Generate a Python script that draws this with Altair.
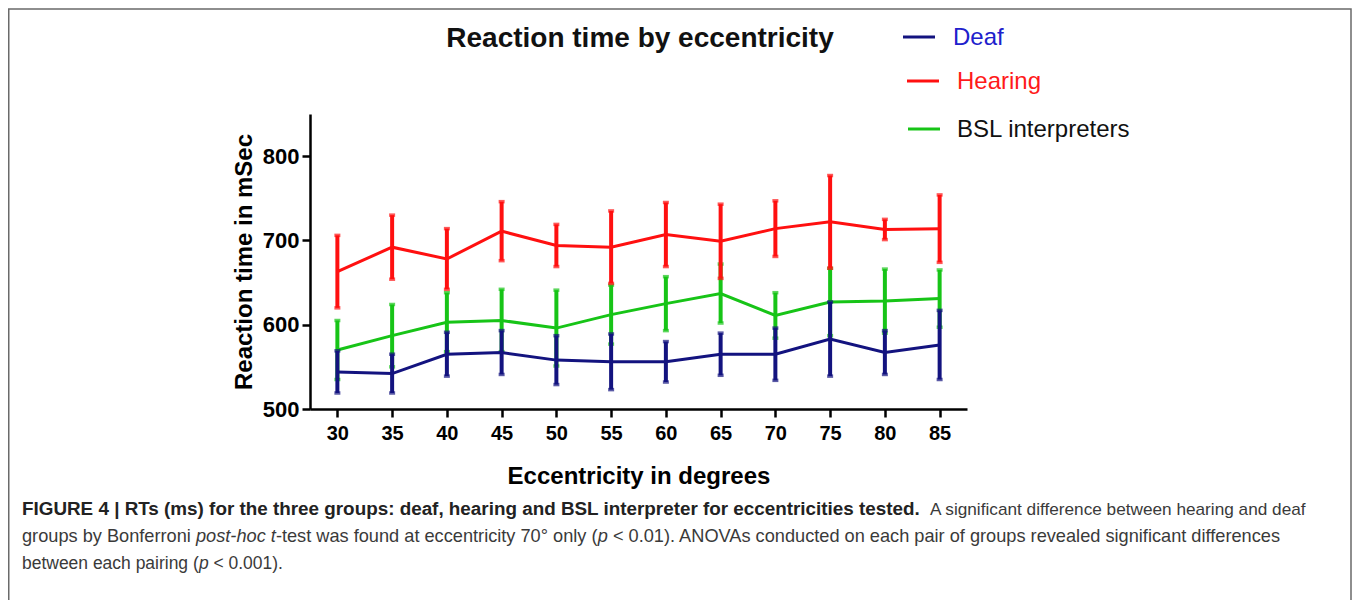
import altair as alt
import pandas as pd

# ---------------- data ----------------
ecc = [30, 35, 40, 45, 50, 55, 60, 65, 70, 75, 80, 85]
deaf_mean = [544, 542, 565, 567, 558, 556, 556, 565, 565, 583, 567, 576]
deaf_err = [25, 23, 26, 26, 29, 33, 24, 25, 31, 44, 26, 41]
hearing_mean = [663, 692, 678, 711, 694, 692, 707, 699, 714, 722, 713, 714]
hearing_err = [43, 38, 36, 35, 25, 43, 38, 44, 33, 55, 12, 40]
bsl_mean = [570, 587, 603, 605, 596, 612, 625, 637, 611, 627, 628, 631]
bsl_err = [35, 37, 35, 37, 45, 35, 32, 35, 27, 40, 38, 34]

y_ticks = [500, 600, 700, 800]
groups = ["Deaf", "Hearing", "BSL interpreters"]
line_colors = {"Deaf": "#13137f", "Hearing": "#ff1010", "BSL interpreters": "#17c417"}
label_colors = {"Deaf": "#2020cc", "Hearing": "#ff1a1a", "BSL interpreters": "#111111"}

title_text = "Reaction time by eccentricity"
x_title = "Eccentricity in degrees"
y_title = "Reaction time in mSec"

caption_lines = [
    [("FIGURE 4 | RTs (ms) for the three groups: deaf, hearing and BSL interpreter for eccentricities tested.", "bold"),
     (" A significant difference between hearing and deaf", "normal")],
    [("groups by Bonferroni ", "normal"), ("post-hoc", "italic"), (" ", "normal"), ("t", "italic"),
     ("-test was found at eccentricity 70\u00b0 only (", "normal"), ("p", "italic"),
     (" < 0.01). ANOVAs conducted on each pair of groups revealed significant differences", "normal")],
    [("between each pairing (", "normal"), ("p", "italic"), (" < 0.001).", "normal")],
]

# ---------------- layout ----------------
W, H = 657, 295
PAD_L, PAD_T = 302, 106
TOTAL_W, TOTAL_H = 1344, 592
FONT = "Liberation Sans"

# Arial / Liberation Sans advance widths (per 1000 em)
REG = {" ": 278, "(": 333, ")": 333, ",": 278, "-": 333, ".": 278, ":": 278, "<": 584,
       "\u00b0": 400, "|": 260}
BOLD = {" ": 278, "(": 333, ")": 333, ",": 278, "-": 333, ".": 278, ":": 333, "<": 584,
        "\u00b0": 400, "|": 280}
for d in "0123456789":
    REG[d] = 556
    BOLD[d] = 556
up_reg = dict(zip("ABCDEFGHIJKLMNOPQRSTUVWXYZ",
                  [667, 667, 722, 722, 667, 611, 778, 722, 278, 500, 667, 556, 833, 722, 778, 667,
                   778, 722, 667, 611, 722, 667, 944, 667, 667, 611]))
up_bold = dict(zip("ABCDEFGHIJKLMNOPQRSTUVWXYZ",
                   [722, 722, 722, 722, 667, 611, 778, 722, 278, 556, 722, 611, 833, 722, 778, 667,
                    778, 722, 667, 611, 722, 667, 944, 667, 667, 611]))
lo_reg = dict(zip("abcdefghijklmnopqrstuvwxyz",
                  [556, 556, 500, 556, 556, 278, 556, 556, 222, 222, 500, 222, 833, 556, 556, 556,
                   556, 333, 500, 278, 556, 500, 722, 500, 500, 500]))
lo_bold = dict(zip("abcdefghijklmnopqrstuvwxyz",
                   [556, 611, 556, 611, 556, 333, 611, 611, 278, 278, 556, 278, 889, 611, 611, 611,
                    611, 389, 556, 333, 611, 556, 778, 556, 556, 500]))
REG.update(up_reg); REG.update(lo_reg)
BOLD.update(up_bold); BOLD.update(lo_bold)


def text_units(s, style):
    table = BOLD if style == "bold" else REG
    return sum(table.get(c, 556) for c in s) / 1000.0


# page-x spans of the caption runs
CAP_LEFT = 22
bold_end = 922
line1_reg_span = (930, 1307)
line2_end = 1283
line3_end = 283

BOLD_SIZE = (bold_end - CAP_LEFT) / text_units(caption_lines[0][0][0], "bold")
line_sizes = [
    (line1_reg_span[1] - line1_reg_span[0]) / text_units(caption_lines[0][1][0].lstrip(" "), "normal"),
    (line2_end - CAP_LEFT) / sum(text_units(s, st) for s, st in caption_lines[1]),
    (line3_end - CAP_LEFT) / sum(text_units(s, st) for s, st in caption_lines[2]),
]
cap_baselines = [515, 542, 569]

# ---------------- axes ----------------
x_enc = alt.X("ecc:Q", scale=alt.Scale(domain=[27.5, 87.5], nice=False, zero=False),
              axis=alt.Axis(values=ecc, title=x_title, labelFontSize=20, titlePadding=21,
                            labelPadding=6, format="d"))
y_axis = alt.Axis(values=y_ticks, title=y_title, labelFontSize=22, titlePadding=6,
                  labelPadding=3, format="d")
y_scale = alt.Scale(domain=[500, 850], nice=False, zero=False)

layers = []
for g, means, errs in [("BSL interpreters", bsl_mean, bsl_err),
                       ("Deaf", deaf_mean, deaf_err),
                       ("Hearing", hearing_mean, hearing_err)]:
    df = pd.DataFrame({"ecc": ecc, "mean": means, "err": errs})
    df["lo"] = df["mean"] - df["err"]
    df["hi"] = df["mean"] + df["err"]
    col = line_colors[g]
    base = alt.Chart(df)
    layers.append(base.mark_rule(color=col, strokeWidth=4).encode(
        x=x_enc, y=alt.Y("lo:Q", scale=y_scale, axis=y_axis), y2="hi:Q"))
    layers.append(base.mark_tick(color=col, orient="horizontal", size=6, thickness=3.5).encode(
        x=x_enc, y=alt.Y("hi:Q", scale=y_scale, axis=y_axis)))
    layers.append(base.mark_tick(color=col, orient="horizontal", size=6, thickness=3.5).encode(
        x=x_enc, y=alt.Y("lo:Q", scale=y_scale, axis=y_axis)))
    layers.append(base.mark_line(color=col, strokeWidth=3).encode(
        x=x_enc, y=alt.Y("mean:Q", scale=y_scale, axis=y_axis)))

one = pd.DataFrame({"k": [0]})

# frame around the figure
layers.append(alt.Chart(one).mark_rect(fillOpacity=0, stroke="#6a6a6a", strokeWidth=1.5).encode(
    x=alt.value(-PAD_L + 0.75), x2=alt.value(TOTAL_W - PAD_L - 1),
    y=alt.value(9 - 8 - PAD_T), y2=alt.value(TOTAL_H + 50)))

# chart title
layers.append(alt.Chart(one).mark_text(font=FONT, fontSize=28, fontWeight="bold", color="#111111",
                                       align="center", baseline="middle").encode(
    x=alt.value(640 - 8 - PAD_L), y=alt.value(39 - 8 - PAD_T), text=alt.value(title_text)))

# legend
leg_pos = {"Deaf": (903, 953, 37), "Hearing": (907, 957, 81), "BSL interpreters": (908, 957, 129)}
for g in groups:
    x0, xt, yy = leg_pos[g]
    layers.append(alt.Chart(one).mark_rule(color=line_colors[g], strokeWidth=3).encode(
        x=alt.value(x0 - 8 - PAD_L), x2=alt.value(x0 + 32 - 8 - PAD_L), y=alt.value(yy - 8 - PAD_T)))
    layers.append(alt.Chart(one).mark_text(font=FONT, fontSize=24, color=label_colors[g],
                                           align="left", baseline="middle").encode(
        x=alt.value(xt - 8 - PAD_L), y=alt.value(yy + 1 - 8 - PAD_T), text=alt.value(g)))


def add_text(txt, xpage, ybase, size, style):
    kw = dict(font=FONT, fontSize=size, align="left", baseline="alphabetic",
              color="#222222" if style == "bold" else "#3a3a3a")
    if style == "bold":
        kw["fontWeight"] = "bold"
    if style == "italic":
        kw["fontStyle"] = "italic"
    layers.append(alt.Chart(one).mark_text(**kw).encode(
        x=alt.value(xpage - 8 - PAD_L), y=alt.value(ybase - 8 - PAD_T), text=alt.value(txt)))


# caption line 1: bold run, then regular run
add_text(caption_lines[0][0][0], CAP_LEFT, cap_baselines[0], BOLD_SIZE, "bold")
add_text(caption_lines[0][1][0].lstrip(" "), line1_reg_span[0], cap_baselines[0], line_sizes[0], "normal")

# caption lines 2 and 3: runs placed one after another
for li in (1, 2):
    size = line_sizes[li]
    xpos = CAP_LEFT
    for s, st in caption_lines[li]:
        lead = len(s) - len(s.lstrip(" "))
        xpos += text_units(" " * lead, st) * size
        body = s.lstrip(" ")
        if body:
            add_text(body, xpos, cap_baselines[li], size, st)
        xpos += text_units(body, st) * size

chart = alt.layer(*layers).properties(
    width=W, height=H,
    padding={"left": PAD_L, "top": PAD_T, "right": TOTAL_W - PAD_L - W, "bottom": TOTAL_H - PAD_T - H},
    autosize=alt.AutoSizeParams(type="none"),
    background="white",
).configure_view(stroke=None).configure_axis(
    grid=False, domainColor="black", domainWidth=2.5, tickColor="black", tickWidth=2.5, tickSize=8,
    labelFont=FONT, labelFontWeight="bold", labelColor="black",
    titleFont=FONT, titleFontWeight="bold", titleFontSize=24, titleColor="black",
)

chart.save("out.html", embed_options={"renderer": "svg", "actions": False})
